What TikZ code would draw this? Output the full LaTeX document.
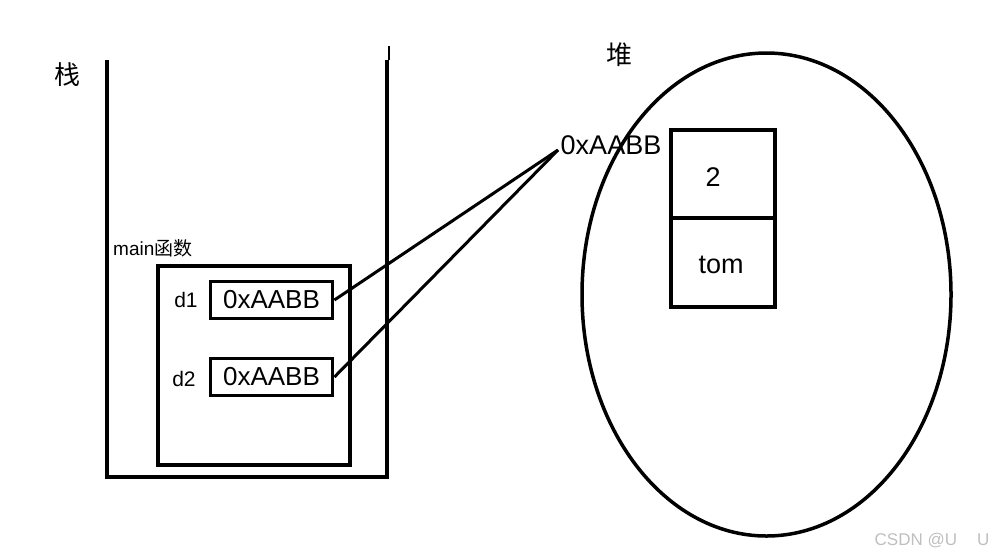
\documentclass[tikz,border=0pt]{standalone}
\usepackage{fontspec}
\setmainfont{Liberation Sans}
\newfontfamily\cjk{Noto Sans CJK SC}
\begin{document}
\begin{tikzpicture}[x=1pt,y=-1pt,
  thick line/.style={line width=3.8pt},
  valbox/.style={draw,line width=3.8pt,minimum width=122pt,minimum height=37pt,inner sep=0pt,font=\fontsize{26}{26}\selectfont},
  lbl/.style={inner sep=0pt,font=\fontsize{21}{21}\selectfont},
  big/.style={inner sep=0pt,font=\fontsize{27}{27}\selectfont}]
\useasboundingbox (0,0) rectangle (995,558);
% stack
\draw[thick line] (107,60) -- (107,477) -- (387,477) -- (387,60);
\draw[line width=1.2pt] (389,46) -- (389,60);
\node[inner sep=0pt,font=\cjk\fontsize{26}{26}\selectfont] (stk) at (67,75) {栈};
\node[inner sep=0pt,font=\cjk\fontsize{26}{26}\selectfont] (hp) at (619,55) {堆};
% main frame
\node[inner sep=0pt,anchor=west,font=\fontsize{19}{19}\selectfont] (mainlbl) at (113,248) {main{\cjk 函数}};
\draw[thick line] (158,266) rectangle (350,465);
\node[lbl] (d1l) at (186,300) {d1};
\node[lbl] (d2l) at (184,379) {d2};
\node[valbox] (d1) at (271.5,300) {0xAABB};
\node[valbox] (d2) at (271.5,377) {0xAABB};
% heap
\draw[line width=3.5pt] (766.5,294.5) ellipse [x radius=184.5, y radius=241.5];
\draw[thick line] (671,130) rectangle (775,307);
\draw[thick line] (671,218) -- (775,218);
\node[big] (v2) at (713,177) {2};
\node[big] (tom) at (721,265) {tom};
\node[big] (addr) at (611,145) {0xAABB};
\coordinate (tip) at (558,150);
\draw[line width=3pt] (d1.east) -- (tip);
\draw[line width=3pt] (d2.east) -- (tip);
% watermark
\node[inner sep=0pt,text=black!25,font=\fontsize{17}{17}\selectfont] (wm) at (932,541) {CSDN @U\hspace{20pt}U};
\end{tikzpicture}
\end{document}
